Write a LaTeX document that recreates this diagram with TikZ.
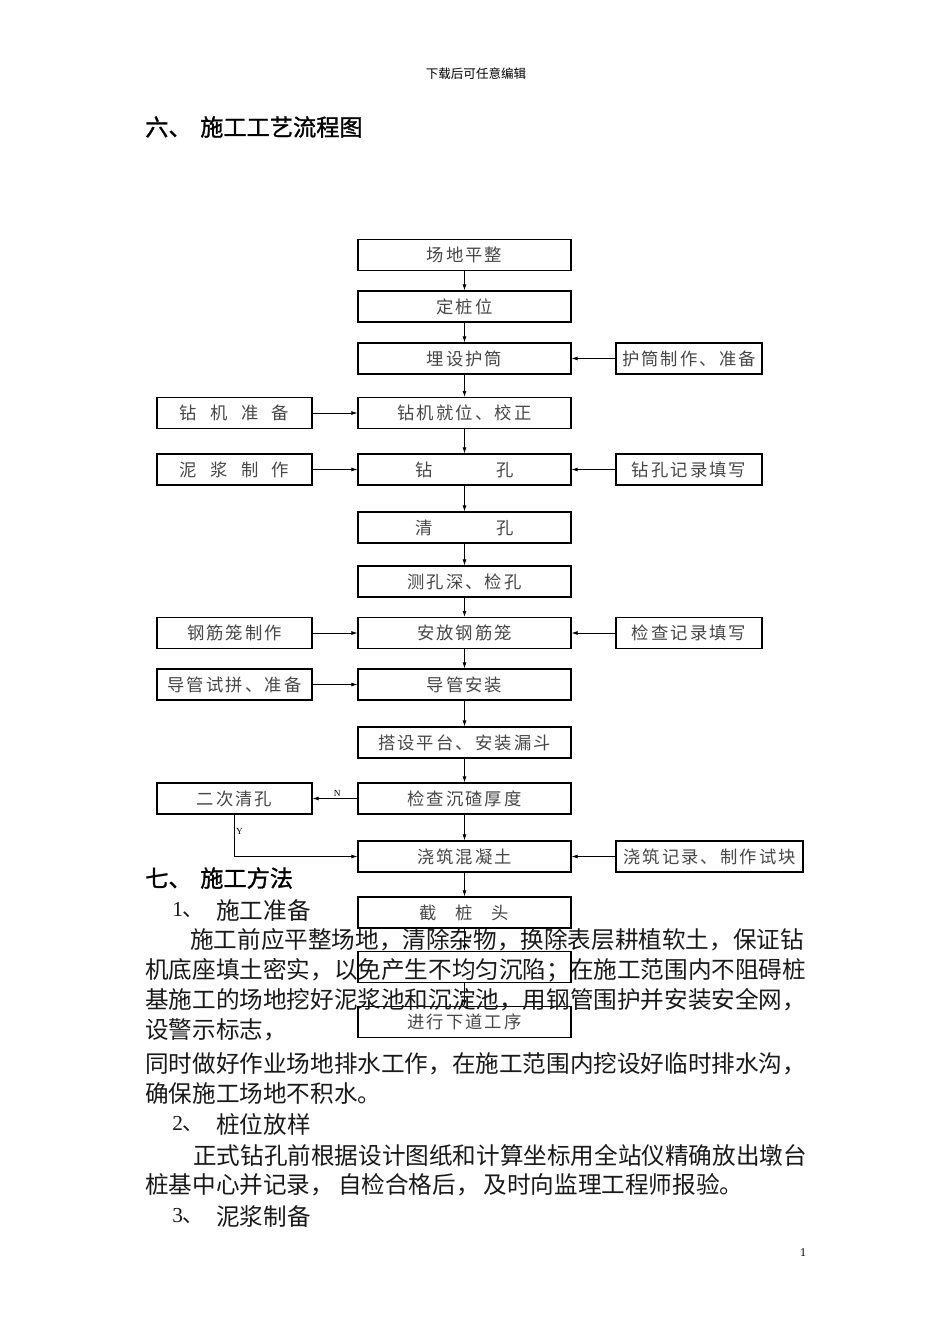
\documentclass[tikz,border=0pt]{standalone}
\usepackage{fontspec}
\usetikzlibrary{arrows.meta}
\newfontfamily\cjk{Noto Sans CJK SC}
\newfontfamily\cjkbold[FakeBold=1.2]{Noto Sans CJK SC}
\newfontfamily\cjkbox[LetterSpace=12]{Noto Sans CJK SC}
\newfontfamily\latin{Liberation Serif}
\tikzset{
  flowbox/.style={draw=black, line width=0.9pt, inner sep=0pt, minimum height=23.25pt,
    font=\cjkbox\fontsize{13pt}{15pt}\selectfont, text=black!72},
  mainbox/.style={flowbox, minimum width=159.75pt},
  leftbox/.style={flowbox, minimum width=116.25pt},
  rightbox/.style={flowbox, minimum width=109.5pt},
  widebox/.style={flowbox, minimum width=140.25pt},
  flowarrow/.style={-{Latex[length=4.5pt,width=3pt]}, line width=0.6pt},
  yn/.style={font=\latin\fontsize{7pt}{8pt}\selectfont, inner sep=1pt},
  bodytext/.style={anchor=west, inner sep=0pt, font=\cjk\fontsize{17.7pt}{20pt}\selectfont, text=black!90},
  headtext/.style={anchor=west, inner sep=0pt, font=\cjkbold\fontsize{17.4pt}{20pt}\selectfont},
  numtext/.style={anchor=west, inner sep=0pt, font=\fontsize{16pt}{18pt}\selectfont, text=black!90},
}
\begin{document}
\begin{tikzpicture}[x=0.75pt, y=-0.75pt]
\useasboundingbox (0,0) rectangle (950,1344);
\fill[white] (0,0) rectangle (950,1344);

% header
\node[inner sep=0pt, font=\cjk\fontsize{9.4pt}{11pt}\selectfont] (hdr) at (476,74) {下载后可任意编辑};
\node[headtext] (h6a) at (145,127) {六、};
\node[headtext] (h6b) at (200,127) {施工工艺流程图};

% main column
\node[mainbox] (m1) at (464.5,255) {场地平整};
\node[mainbox] (m2) at (464.5,306.5) {定桩位};
\node[mainbox] (m3) at (464.5,358.5) {埋设护筒};
\node[mainbox] (m4) at (464.5,413) {钻机就位、校正};
\node[mainbox] (m5) at (464.5,469.5) {钻\hspace{48pt}孔};
\node[mainbox] (m6) at (464.5,527.5) {清\hspace{48pt}孔};
\node[mainbox] (m7) at (464.5,581.5) {测孔深、检孔};
\node[mainbox] (m8) at (464.5,633) {安放钢筋笼};
\node[mainbox] (m9) at (464.5,684.5) {导管安装};
\node[mainbox] (m10) at (464.5,742.5) {搭设平台、安装漏斗};
\node[mainbox] (m11) at (464.5,798.5) {检查沉碴厚度};
\node[mainbox] (m12) at (464.5,856.5) {浇筑混凝土};
\node[mainbox] (m13) at (464.5,912.5) {截\hspace{14pt}桩\hspace{14pt}头};
\node[mainbox] (m14) at (464.5,967) {};
\node[mainbox] (m15) at (464.5,1022) {进行下道工序};

% side boxes
\node[rightbox] (r3) at (689,358.5) {护筒制作、准备};
\node[leftbox] (l4) at (234.5,413) {钻\hspace{10pt}机\hspace{10pt}准\hspace{10pt}备};
\node[leftbox] (l5) at (234.5,469.5) {泥\hspace{10pt}浆\hspace{10pt}制\hspace{10pt}作};
\node[rightbox] (r5) at (689,469.5) {钻孔记录填写};
\node[leftbox] (l8) at (234.5,633) {钢筋笼制作};
\node[rightbox] (r8) at (689,633) {检查记录填写};
\node[leftbox] (l9) at (234.5,684.5) {导管试拼、准备};
\node[leftbox] (l11) at (234.5,798.5) {二次清孔};
\node[widebox] (r12) at (709.5,856.5) {浇筑记录、制作试块};

% vertical connectors
\foreach \a/\b in {m1/m2,m2/m3,m3/m4,m4/m5,m5/m6,m6/m7,m7/m8,m8/m9,m9/m10,m10/m11,m11/m12,m12/m13,m13/m14,m14/m15}
  \draw[flowarrow] (\a.south) -- (\b.north);

% side connectors
\foreach \a/\b in {r3/m3,l4/m4,l5/m5,r5/m5,l8/m8,r8/m8,l9/m9,r12/m12}
  \draw[flowarrow] (\a) -- (\b);
\draw[flowarrow] (m11.west) -- node[yn, above, pos=0.45] {N} (l11.east);
\draw[flowarrow] (l11.south) |- node[yn, right, pos=0.2] {Y} (m12.west);

% text section
\node[headtext] (h7a) at (145,878) {七、};
\node[headtext] (h7b) at (200,878) {施工方法};
\node[numtext] (n1) at (172,910) {{\latin 1}{\cjk 、}};
\node[bodytext] (t1) at (216,910) {施工准备};
\node[bodytext] (p1) at (190,940) {施工前应平整场地，清除杂物，换除表层耕植软土，保证钻};
\node[bodytext] (p2) at (145,970) {机底座填土密实，以免产生不均匀沉陷；在施工范围内不阻碍桩};
\node[bodytext] (p3) at (145,1000) {基施工的场地挖好泥浆池和沉淀池，用钢管围护并安装安全网，};
\node[bodytext] (p4) at (145,1030) {设警示标志，};
\node[bodytext] (p5) at (145,1064) {同时做好作业场地排水工作，在施工范围内挖设好临时排水沟，};
\node[bodytext] (p6) at (145,1093) {确保施工场地不积水。};
\node[numtext] (n2) at (172,1124) {{\latin 2}{\cjk 、}};
\node[bodytext] (t2) at (216,1124) {桩位放样};
\node[bodytext] (p7) at (193,1155) {正式钻孔前根据设计图纸和计算坐标用全站仪精确放出墩台};
\node[bodytext] (p8) at (145,1185) {桩基中心并记录，\hspace{3pt}自检合格后，\hspace{3pt}及时向监理工程师报验。};
\node[numtext] (n3) at (172,1216) {{\latin 3}{\cjk 、}};
\node[bodytext] (t3) at (216,1216) {泥浆制备};
\node[inner sep=0pt, font=\latin\fontsize{9pt}{10pt}\selectfont] (pg) at (803,1253) {1};
\end{tikzpicture}
\end{document}
